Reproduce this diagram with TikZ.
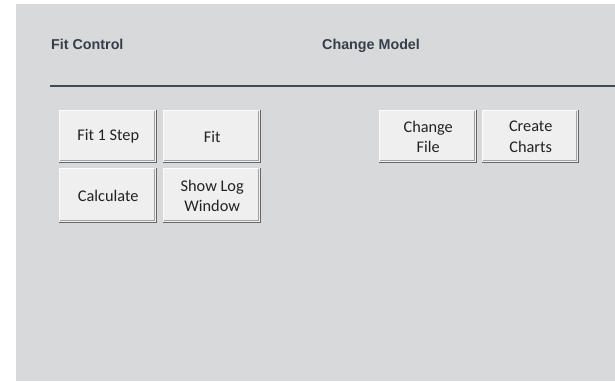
\documentclass[tikz,border=0pt]{standalone}
\usepackage{fontspec}
\setmainfont{Liberation Sans}
\newfontfamily\btnfont{Carlito}
\newfontfamily\hdrfont{Liberation Sans}
\definecolor{panelbg}{HTML}{D8D9DB}
\definecolor{rulecol}{HTML}{3E4A55}
\definecolor{hdrcol}{HTML}{343F4A}
\definecolor{btnfill}{HTML}{EFEFEF}
\definecolor{btnhi}{HTML}{FCFCFC}
\definecolor{btnmid}{HTML}{A2A2A2}
\definecolor{btndark}{HTML}{666666}
\definecolor{btntext}{HTML}{222222}
\begin{document}
\begin{tikzpicture}[x=1pt,y=-1pt,
  hdr/.style={anchor=base west, inner sep=0pt, text=hdrcol, font=\hdrfont\bfseries\fontsize{14.3}{16}\selectfont},
  btn/.style={fill=btnfill, inner sep=0pt, anchor=north west, text=btntext, align=center,
    font=\btnfont\fontsize{16.3}{20.5}\selectfont},
  hiedge/.style={draw=btnhi, line width=1pt},
  midedge/.style={draw=btnmid, line width=1pt},
  darkedge/.style={draw=btndark, line width=1.6pt}]
\useasboundingbox (0,0) rectangle (615,381);
\fill[white] (0,0) rectangle (615,381);
\fill[panelbg] (16,4) rectangle (615,381);
\node[hdr] (fitctl) at (51,49.5) {Fit Control};
\node[hdr] (chgmod) at (322,49.5) {Change Model};
\coordinate (ruleL) at (50,86);
\coordinate (ruleR) at (615,86);
\draw[rulecol, line width=2.8pt] (ruleL) -- (ruleR);
% buttons
\node[btn, minimum width=98pt, minimum height=53pt] (b1) at (59,110) {Fit 1 Step};
\node[btn, minimum width=98pt, minimum height=53pt] (b2) at (163,110) {Fit};
\node[btn, minimum width=98pt, minimum height=55pt] (b3) at (59,168) {Calculate};
\node[btn, minimum width=98pt, minimum height=55pt] (b4) at (163,168) {Show Log\\Window};
\node[btn, minimum width=98pt, minimum height=53pt] (b5) at (379,110) {Change\\File};
\node[btn, minimum width=97pt, minimum height=53pt] (b6) at (482,110) {Create\\Charts};
\foreach \n in {b1,b2,b3,b4,b5,b6}{
  \draw[hiedge] ([xshift=0.5pt,yshift=3pt]\n.south west) -- ([xshift=0.5pt,yshift=-0.5pt]\n.north west) -- ([xshift=-3pt,yshift=-0.5pt]\n.north east);
  \draw[midedge] ([xshift=1pt,yshift=2.5pt]\n.south west) -- ([xshift=-2.5pt,yshift=2.5pt]\n.south east) -- ([xshift=-2.5pt,yshift=-1pt]\n.north east);
  \draw[darkedge] ([yshift=0.8pt]\n.south west) -- ([xshift=-0.8pt,yshift=0.8pt]\n.south east) -- ([xshift=-0.8pt]\n.north east);
}
\end{tikzpicture}
\end{document}
